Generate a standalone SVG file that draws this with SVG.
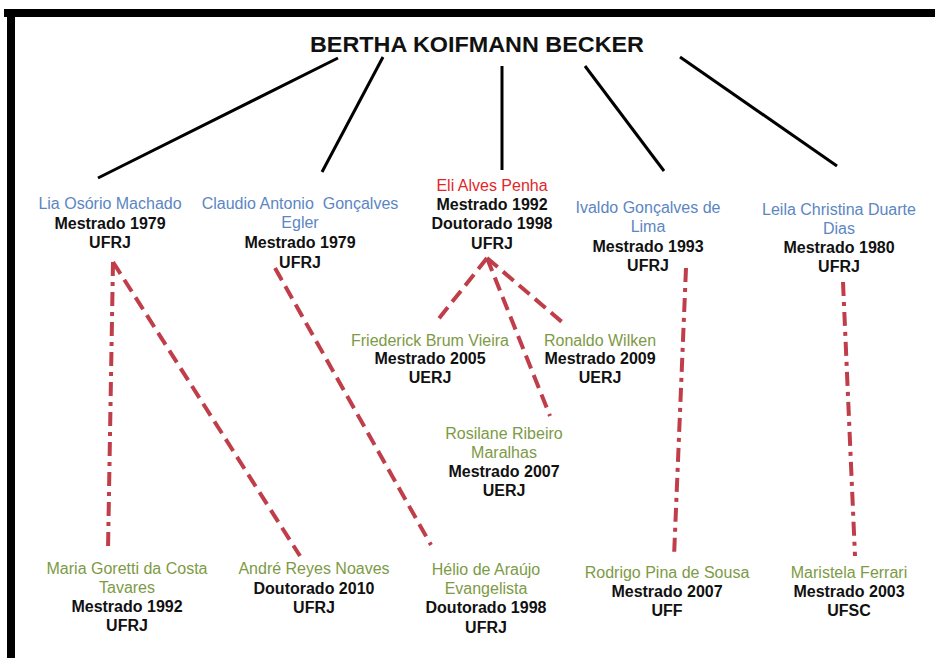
<svg xmlns="http://www.w3.org/2000/svg" width="935" height="658" viewBox="0 0 935 658">
<style>
text{font-family:"Liberation Sans",Arial,sans-serif;font-size:16px;text-anchor:middle}
.t{font-size:22px;font-weight:bold;fill:#111}
.b{font-weight:bold;fill:#111}
.blue{fill:#5b86c3}
.red{fill:#e2262b}
.grn{fill:#7d9a45}
.k{stroke:#000;stroke-width:3;fill:none}
.d{stroke:#bf3e4a;stroke-width:4;fill:none;stroke-dasharray:14 7}
.dd{stroke:#bf3e4a;stroke-width:4;fill:none;stroke-dasharray:14 6 4 6}
</style>
<rect width="935" height="658" fill="#fff"/>
<rect x="4" y="9" width="931" height="8" fill="#000"/>
<rect x="7" y="9" width="8" height="649" fill="#000"/>
<g id="root"><text class="t" x="477" y="52" textLength="334" lengthAdjust="spacingAndGlyphs">BERTHA KOIFMANN BECKER</text></g>
<g id="connectors">
<line class="k" x1="338" y1="58" x2="98" y2="178"/>
<line class="k" x1="383" y1="57" x2="322" y2="172"/>
<line class="k" x1="502" y1="66" x2="502" y2="170"/>
<line class="k" x1="585" y1="66" x2="664" y2="171"/>
<line class="k" x1="680" y1="57" x2="837" y2="166"/>
<line class="dd" x1="113" y1="262" x2="108" y2="550"/>
<line class="d" x1="113" y1="262" x2="300" y2="556"/>
<line class="d" x1="275" y1="268" x2="431" y2="545"/>
<line class="d" x1="487" y1="258" x2="437" y2="321"/>
<line class="d" x1="487" y1="258" x2="550" y2="416"/>
<line class="d" x1="487" y1="258" x2="562" y2="322"/>
<line class="dd" x1="686" y1="268" x2="674" y2="557"/>
<line class="dd" x1="843" y1="282" x2="855" y2="556"/>
</g>
<g id="lia"><text class="blue" x="110" y="209">Lia Osório Machado</text><text class="b" x="110" y="229">Mestrado 1979</text><text class="b" x="110" y="248">UFRJ</text></g>
<g id="claudio"><text class="blue" x="300" y="209">Claudio Antonio&#160; Gonçalves</text><text class="blue" x="300" y="228">Egler</text><text class="b" x="300" y="248">Mestrado 1979</text><text class="b" x="300" y="268">UFRJ</text></g>
<g id="eli"><text class="red" x="492" y="191">Eli Alves Penha</text><text class="b" x="492" y="210">Mestrado 1992</text><text class="b" x="492" y="229">Doutorado 1998</text><text class="b" x="492" y="249">UFRJ</text></g>
<g id="ivaldo"><text class="blue" x="648" y="213">Ivaldo Gonçalves de</text><text class="blue" x="648" y="232">Lima</text><text class="b" x="648" y="252">Mestrado 1993</text><text class="b" x="648" y="271">UFRJ</text></g>
<g id="leila"><text class="blue" x="839" y="215">Leila Christina Duarte</text><text class="blue" x="839" y="234">Dias</text><text class="b" x="839" y="253">Mestrado 1980</text><text class="b" x="839" y="272">UFRJ</text></g>
<g id="friederick"><text class="grn" x="430" y="346">Friederick Brum Vieira</text><text class="b" x="430" y="364">Mestrado 2005</text><text class="b" x="430" y="383">UERJ</text></g>
<g id="ronaldo"><text class="grn" x="600" y="346">Ronaldo Wilken</text><text class="b" x="600" y="364">Mestrado 2009</text><text class="b" x="600" y="383">UERJ</text></g>
<g id="rosilane"><text class="grn" x="504" y="439">Rosilane Ribeiro</text><text class="grn" x="504" y="458">Maralhas</text><text class="b" x="504" y="477">Mestrado 2007</text><text class="b" x="504" y="496">UERJ</text></g>
<g id="maria"><text class="grn" x="127" y="574">Maria Goretti da Costa</text><text class="grn" x="127" y="593">Tavares</text><text class="b" x="127" y="612">Mestrado 1992</text><text class="b" x="127" y="631">UFRJ</text></g>
<g id="andre"><text class="grn" x="314" y="574">André Reyes Noaves</text><text class="b" x="314" y="594">Doutorado 2010</text><text class="b" x="314" y="613">UFRJ</text></g>
<g id="helio"><text class="grn" x="486" y="575">Hélio de Araújo</text><text class="grn" x="486" y="594">Evangelista</text><text class="b" x="486" y="613">Doutorado 1998</text><text class="b" x="486" y="633">UFRJ</text></g>
<g id="rodrigo"><text class="grn" x="667" y="578">Rodrigo Pina de Sousa</text><text class="b" x="667" y="597">Mestrado 2007</text><text class="b" x="667" y="616">UFF</text></g>
<g id="maristela"><text class="grn" x="849" y="578">Maristela Ferrari</text><text class="b" x="849" y="597">Mestrado 2003</text><text class="b" x="849" y="616">UFSC</text></g>
</svg>
